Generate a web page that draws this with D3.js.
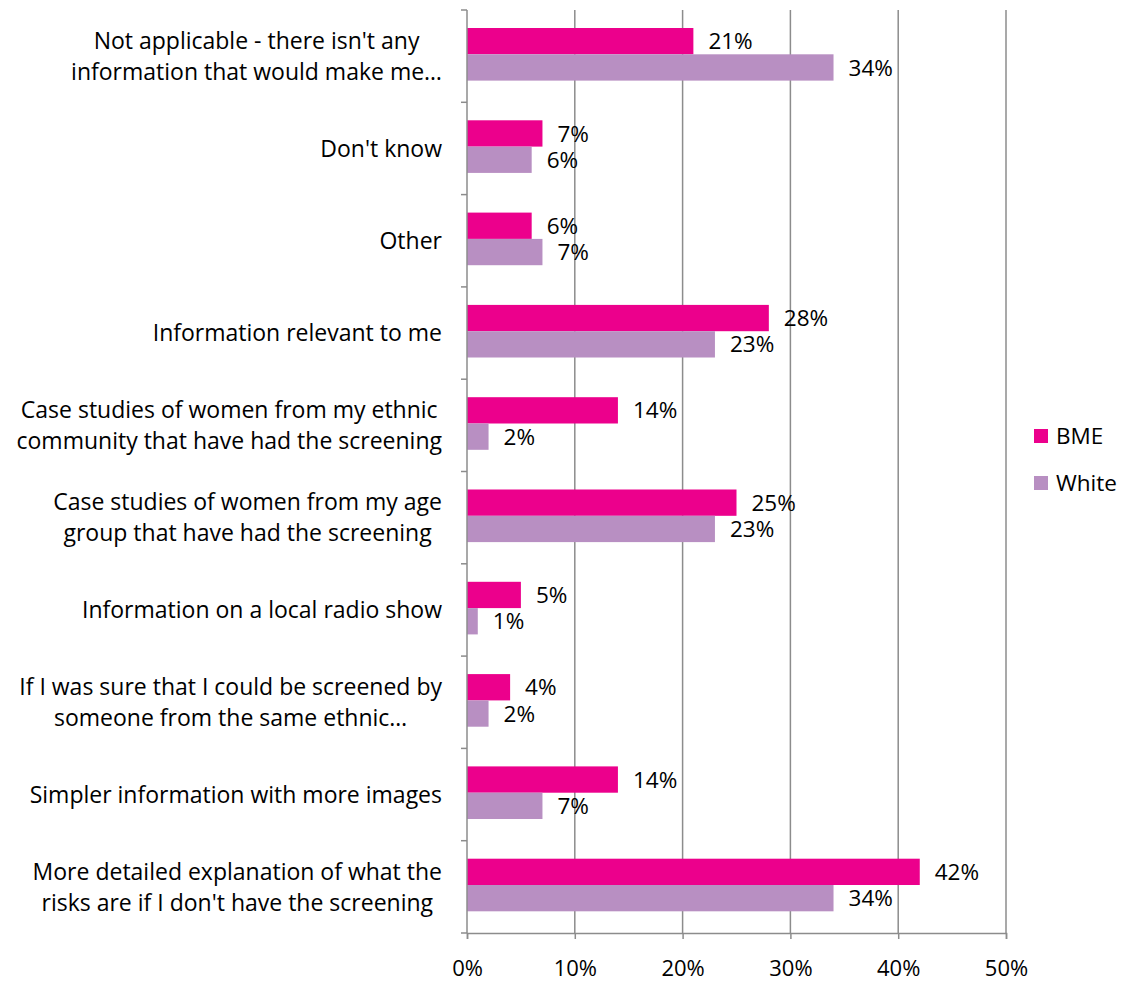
<!DOCTYPE html>
<html>
<head>
<meta charset="utf-8">
<script src="https://cdn.jsdelivr.net/npm/d3@7"></script>
<style>
  body { margin: 0; background: #fff; }
  svg { font-family: "Open Sans", Lato, sans-serif; }
</style>
</head>
<body>
<svg id="grafico" width="1128" height="983"></svg>
<script>
// dati
var categorie = [
  ["Not applicable - there isn't any", "information that would make me…"],
  ["Don't know"],
  ["Other"],
  ["Information relevant to me"],
  ["Case studies of women from my ethnic", "community that have had the screening"],
  ["Case studies of women from my age", "group that have had the screening"],
  ["Information on a local radio show"],
  ["If I was sure that I could be screened by", "someone from the same ethnic…"],
  ["Simpler information with more images"],
  ["More detailed explanation of what the", "risks are if I don't have the screening"]
];
var serie = ["BME", "White"];
var valoriBME = [21, 7, 6, 28, 14, 25, 5, 4, 14, 42];
var valoriWhite = [34, 6, 7, 23, 2, 23, 1, 2, 7, 34];
var tickX = [0, 10, 20, 30, 40, 50];

var colori = { BME: "#EC008C", White: "#B88FC2" };

var svg = d3.select("#grafico");

var sinistra = 467, destra = 1006, alto = 10, basso = 933;
var fineEtichette = 442;

var x = d3.scaleLinear().domain([0, 50]).range([sinistra, destra]);
var y = d3.scaleBand().domain(d3.range(categorie.length)).range([alto, basso]).padding(0);
var ySerie = d3.scaleBand().domain(serie)
  .range([y.bandwidth() * 0.195, y.bandwidth() * 0.765]);

// griglia
svg.append("g").selectAll("line")
  .data(tickX.slice(1))
  .enter()
  .append("line")
  .attr("x1", d => x(d)).attr("x2", d => x(d))
  .attr("y1", alto).attr("y2", basso)
  .attr("stroke", "#8c8c8c").attr("stroke-width", 1.5);

// barre
var righe = categorie.map((c, i) => ({ i: i, BME: valoriBME[i], White: valoriWhite[i] }));

var gruppi = svg.append("g").selectAll("g")
  .data(righe)
  .enter()
  .append("g")
  .attr("transform", d => "translate(0," + y(d.i) + ")");

gruppi.selectAll("rect")
  .data(d => serie.map(s => ({ s: s, v: d[s] })))
  .enter()
  .append("rect")
  .attr("x", x(0))
  .attr("y", d => ySerie(d.s))
  .attr("width", d => x(d.v) - x(0))
  .attr("height", ySerie.bandwidth())
  .attr("fill", d => colori[d.s]);

gruppi.selectAll("text.valore")
  .data(d => serie.map(s => ({ s: s, v: d[s] })))
  .enter()
  .append("text")
  .attr("class", "valore")
  .attr("x", d => x(d.v) + 15)
  .attr("y", d => ySerie(d.s) + ySerie.bandwidth() / 2)
  .attr("dy", "0.36em")
  .style("font-size", "22.5px")
  .attr("fill", "#000")
  .text(d => d.v + "%");

// asse sinistro
var asseY = svg.append("g").attr("transform", "translate(" + x(0) + ",0)");
asseY.append("line").attr("x1", 0).attr("x2", 0).attr("y1", alto).attr("y2", basso)
  .attr("stroke", "#8c8c8c").attr("stroke-width", 1.5);
asseY.selectAll("line.tacca")
  .data(d3.range(categorie.length + 1))
  .enter()
  .append("line")
  .attr("class", "tacca")
  .attr("x1", -6).attr("x2", 0)
  .attr("y1", d => alto + d * y.step()).attr("y2", d => alto + d * y.step())
  .attr("stroke", "#8c8c8c").attr("stroke-width", 1.5);

// etichette categorie: blocco centrato, allineato a destra
var etichette = svg.append("g").selectAll("text")
  .data(categorie)
  .enter()
  .append("text")
  .attr("text-anchor", "middle")
  .style("font-size", "23px")
  .attr("fill", "#000");

etichette.each(function (righeTesto, i) {
  var centro = y(i) + y.bandwidth() / 2;
  var n = righeTesto.length;
  var el = d3.select(this);
  var spans = el.selectAll("tspan")
    .data(righeTesto)
    .enter()
    .append("tspan")
    .attr("y", (d, j) => centro + (j - (n - 1) / 2) * 31)
    .attr("dy", "0.36em")
    .text(d => d);
  var larghezza = 0;
  spans.each(function () { larghezza = Math.max(larghezza, this.getComputedTextLength()); });
  spans.attr("x", fineEtichette - larghezza / 2);
});

// asse in basso
var asseX = svg.append("g")
  .attr("transform", "translate(0," + basso + ")")
  .call(d3.axisBottom(x).tickValues(tickX).tickSize(6).tickFormat(d => d + "%"));
asseX.select(".domain").attr("stroke", "#8c8c8c").attr("stroke-width", 1.5);
asseX.selectAll(".tick line").attr("stroke", "#8c8c8c").attr("stroke-width", 1.5);
asseX.selectAll(".tick text")
  .attr("y", 27)
  .style("font-size", "22px")
  .style("font-family", "'Open Sans', Lato, sans-serif")
  .attr("fill", "#000");

// legenda
var legenda = svg.append("g").selectAll("g")
  .data(serie)
  .enter()
  .append("g")
  .attr("transform", (d, i) => "translate(1034," + (436 + i * 47) + ")");
legenda.append("rect")
  .attr("x", 0).attr("y", -7).attr("width", 14).attr("height", 14)
  .attr("fill", d => colori[d]);
legenda.append("text")
  .attr("x", 22).attr("y", 0).attr("dy", "0.36em")
  .style("font-size", "22.5px")
  .attr("fill", "#000")
  .text(d => d);
</script>
</body>
</html>
